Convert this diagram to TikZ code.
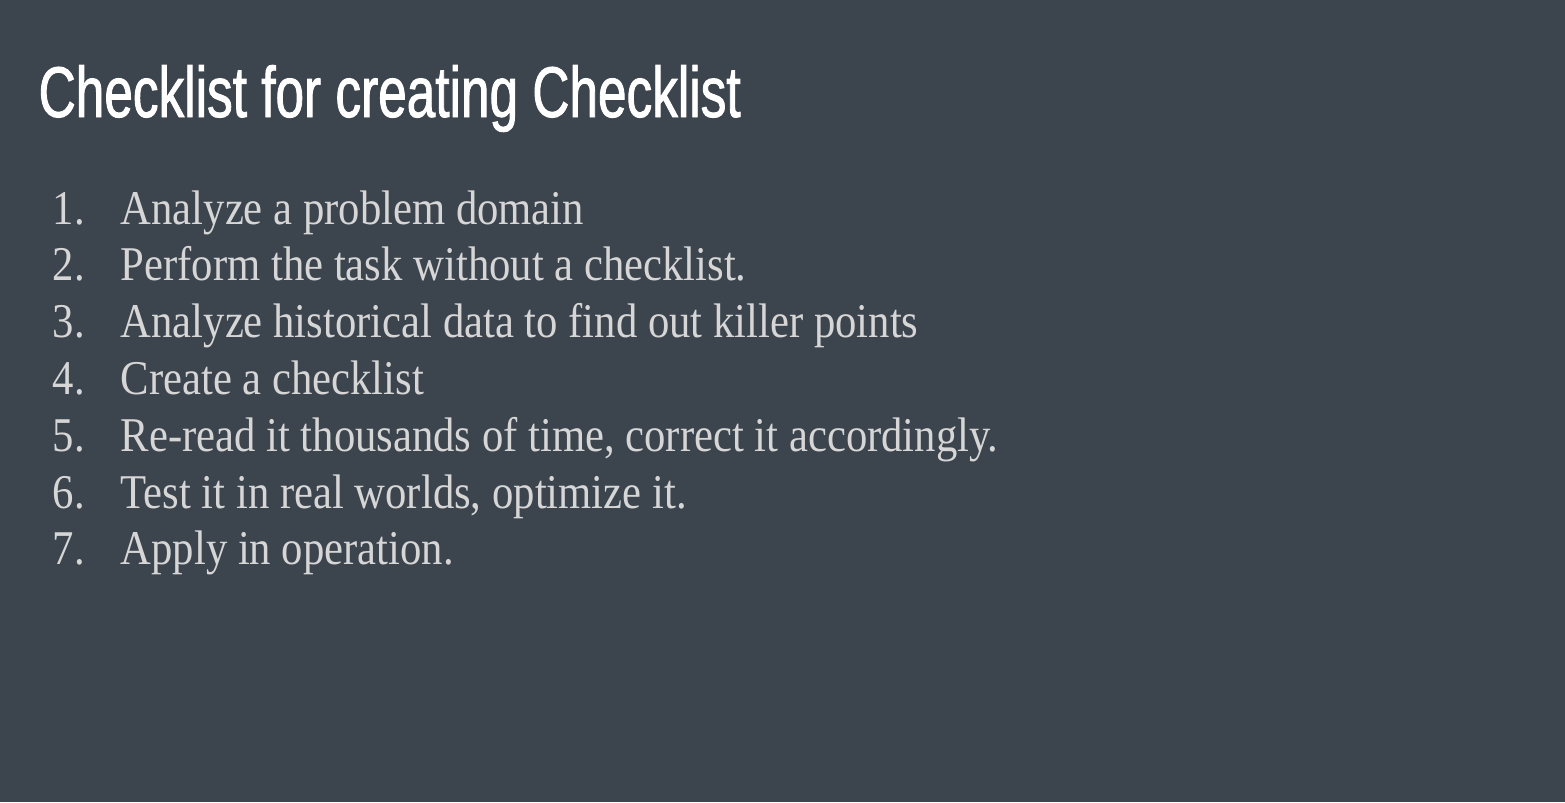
\documentclass[tikz,border=0pt]{standalone}
\usepackage{fontspec}
\setmainfont[FakeStretch=0.88]{Liberation Serif}
\newfontfamily\titlefont[FakeStretch=0.72,FakeBold=1.2]{Liberation Sans}
\definecolor{slidebg}{HTML}{3C444D}
\definecolor{bodytext}{HTML}{D6D6D6}
\begin{document}
\begin{tikzpicture}[x=1cm,y=1cm,
  itemnum/.style={anchor=base west,inner sep=0pt,text=bodytext,font=\fontsize{13.8pt}{16pt}\selectfont},
  itemtext/.style={anchor=base west,inner sep=0pt,text=bodytext,font=\fontsize{13.8pt}{16pt}\selectfont}]
\fill[slidebg] (0,0) rectangle (15.65,-8.02);
\useasboundingbox (0,0) rectangle (15.65,-8.02);
\node[anchor=base west,inner sep=0pt,text=white] (title) at (0.38,-1.17)
  {\resizebox{7.02cm}{0.52cm}{\titlefont Checklist for creating Checklist}};
\foreach \n/\t [count=\i] in {
  1./Analyze a problem domain,
  2./Perform the task without a checklist.,
  3./Analyze historical data to find out killer points,
  4./Create a checklist,
  5./{Re-read it thousands of time, correct it accordingly.},
  6./{Test it in real worlds, optimize it.},
  7./Apply in operation.}{
  \node[itemnum] (n\i) at (0.52,{-2.24-0.568*(\i-1)}) {\n};
  \node[itemtext] (t\i) at (1.20,{-2.24-0.568*(\i-1)}) {\t};
}
\end{tikzpicture}
\end{document}
